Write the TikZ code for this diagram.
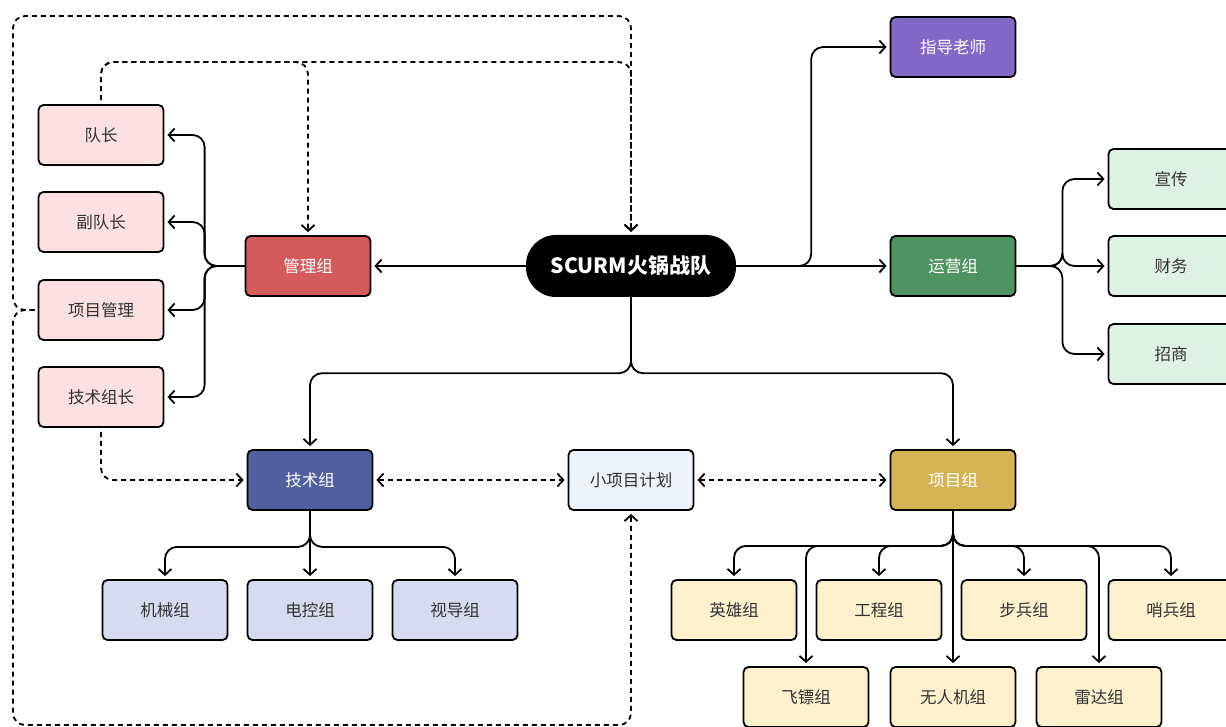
\documentclass[tikz,border=0pt]{standalone}
\usepackage{fontspec}
\usetikzlibrary{arrows.meta}
\newfontfamily\cjk{Noto Sans CJK SC}

\definecolor{mgred}{HTML}{D35B5B}
\definecolor{mgpink}{HTML}{FDE1E1}
\definecolor{zdpurple}{HTML}{8468C8}
\definecolor{yygreen}{HTML}{4F9460}
\definecolor{yylight}{HTML}{DDF2E4}
\definecolor{jsblue}{HTML}{4F5FA0}
\definecolor{jslight}{HTML}{D6DBF0}
\definecolor{xxlight}{HTML}{EEF2FA}
\definecolor{xmgold}{HTML}{D4B355}
\definecolor{xmlight}{HTML}{FDF0CC}
\definecolor{txt}{HTML}{333333}

\tikzset{
  box/.style={draw, line width=1.8pt, rounded corners=5pt, minimum width=125pt,
    minimum height=60pt, font=\cjk\fontsize{16.5}{19}\selectfont, text=txt},
  darkbox/.style={box, text=white},
  root/.style={fill=black, rounded corners=30pt, minimum width=210pt, minimum height=62pt,
    text=white, font=\cjk\bfseries\fontsize{21}{25}\selectfont},
  conn/.style={line width=1.8pt, rounded corners=12pt,
    -{Straight Barb[length=6pt,width=13pt]}, shorten >=3pt},
  dconn/.style={conn, dash pattern=on 5pt off 4pt},
  biconn/.style={dconn, {Straight Barb[length=6pt,width=13pt]}-{Straight Barb[length=6pt,width=13pt]}, shorten <=3pt}
}

\begin{document}
\begin{tikzpicture}[x=1pt,y=-1pt]
  \useasboundingbox (0,0) rectangle (1226,727);

  % root
  \node[root] (sc) at (631,266) {SCURM火锅战队};

  % management
  \node[darkbox, fill=mgred] (mg) at (308,266) {管理组};
  \node[box, fill=mgpink] (dz) at (101,135) {队长};
  \node[box, fill=mgpink] (fdz) at (101,222) {副队长};
  \node[box, fill=mgpink] (xmgl) at (101,310) {项目管理};
  \node[box, fill=mgpink] (jszz) at (101,397) {技术组长};

  % operations + teacher
  \node[darkbox, fill=zdpurple] (zd) at (953,47) {指导老师};
  \node[darkbox, fill=yygreen] (yy) at (953,266) {运营组};
  \node[box, fill=yylight] (xc) at (1171,179) {宣传};
  \node[box, fill=yylight] (cw) at (1171,266) {财务};
  \node[box, fill=yylight] (zs) at (1171,354) {招商};

  % middle row
  \node[darkbox, fill=jsblue] (jsz) at (310,480) {技术组};
  \node[box, fill=xxlight] (xx) at (631,480) {小项目计划};
  \node[darkbox, fill=xmgold] (xmz) at (953,480) {项目组};

  % tech groups
  \node[box, fill=jslight] (jx) at (165,610) {机械组};
  \node[box, fill=jslight] (dk) at (310,610) {电控组};
  \node[box, fill=jslight] (sd) at (455,610) {视导组};

  % project groups
  \node[box, fill=xmlight] (yx) at (734,610) {英雄组};
  \node[box, fill=xmlight] (gc) at (879,610) {工程组};
  \node[box, fill=xmlight] (bb) at (1024,610) {步兵组};
  \node[box, fill=xmlight] (sb) at (1171,610) {哨兵组};
  \node[box, fill=xmlight] (fb) at (806,697) {飞镖组};
  \node[box, fill=xmlight] (wrj) at (953,697) {无人机组};
  \node[box, fill=xmlight] (ld) at (1099,697) {雷达组};

  \coordinate (tl) at (13,16);
  \coordinate (bl) at (13,725);

  % solid links
  \draw[conn] (sc.west) -- (mg.east);
  \foreach \t in {dz,fdz,xmgl,jszz}
    \draw[conn] (mg.west) -- ++(-40,0) |- (\t.east);
  \draw[conn] (sc.east) -- ++(75,0) |- (zd.west);
  \draw[conn] (sc.east) -- (yy.west);
  \foreach \t in {xc,cw,zs}
    \draw[conn] (yy.east) -- ++(46,0) |- (\t.west);
  \draw[conn] (sc.south) -- ++(0,76) -| (jsz.north);
  \draw[conn] (sc.south) -- ++(0,76) -| (xmz.north);
  \draw[conn] (jsz.south) -- ++(0,36) -| (jx.north);
  \draw[conn] (jsz.south) -- (dk.north);
  \draw[conn] (jsz.south) -- ++(0,36) -| (sd.north);
  \foreach \t in {yx,gc,bb,sb,fb,ld}
    \draw[conn] (xmz.south) -- ++(0,35) -| (\t.north);
  \draw[conn] (xmz.south) -- (wrj.north);

  % dashed links
  \draw[dconn, shorten <=4pt] (jszz.south) |- (jsz.west);
  \draw[biconn] (jsz.east) -- (xx.west);
  \draw[biconn] (xx.east) -- (xmz.west);
  \draw[dconn, shorten <=4pt] (dz.north) -- ++(0,-42) -| (mg.north);
  \draw[dconn, shorten <=4pt] (dz.north) -- ++(0,-42) -| (sc.north);
  \draw[dconn, shorten <=3pt] (xmgl.west) -| (tl) -| (sc.north);
  \draw[dconn, shorten <=3pt] (xmgl.west) -| (bl) -| (xx.south);
\end{tikzpicture}
\end{document}
